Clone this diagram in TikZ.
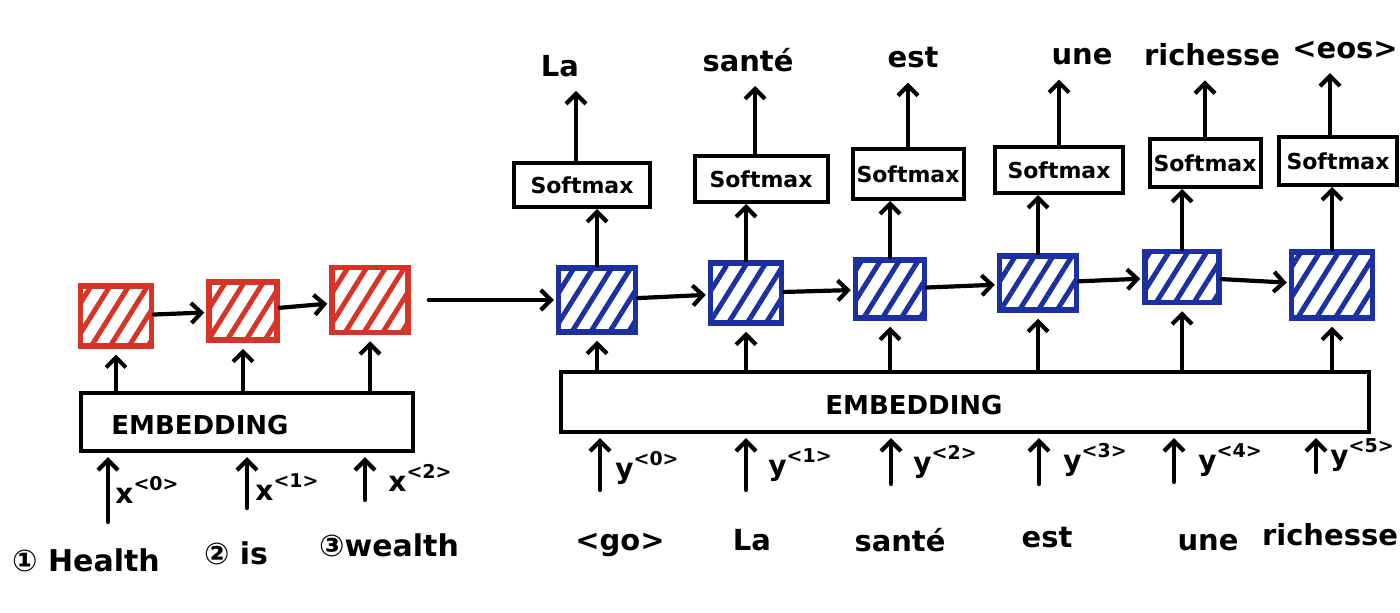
\documentclass[tikz,border=0pt]{standalone}
\usepackage{fontspec}
\setmainfont{DejaVu Sans}
\usetikzlibrary{arrows.meta,patterns.meta}
\definecolor{redc}{RGB}{214,52,38}
\definecolor{bluec}{RGB}{28,48,160}
\newcommand{\fsz}[1]{\fontsize{#1}{#1}\selectfont}
\newcommand{\suplab}[2]{#1\raisebox{13pt}{\fsz{19}\textless#2\textgreater}}
\begin{document}
\begin{tikzpicture}[x=1pt,y=-1pt,
  conn/.style={line width=4.2pt, line cap=round, -{Straight Barb[length=10pt,width=20pt]}},
  cellbase/.style={line width=5.5pt, inner sep=0pt},
  rcell/.style={cellbase, draw=redc, pattern={Lines[angle=58,distance=16pt,line width=5pt]}, pattern color=redc},
  bcell/.style={cellbase, draw=bluec, pattern={Lines[angle=58,distance=16pt,line width=5pt]}, pattern color=bluec},
  smax/.style={draw, line width=4pt, inner sep=0pt, font=\fsz{22}\bfseries},
  embbox/.style={draw, line width=4.2pt, inner sep=0pt},
  embtxt/.style={font=\fsz{26}\bfseries, inner sep=0pt},
  word/.style={font=\fsz{29}\bfseries, inner sep=0pt},
  lab/.style={font=\fsz{28}\bfseries, inner sep=0pt}]
\fill[white] (0,0) rectangle (1400,613);
\useasboundingbox (0,0) rectangle (1400,613);
\clip (0,0) rectangle (1400,613);

% encoder cells
\node[rcell, minimum width=71pt, minimum height=60pt] (r1) at (116,316) {};
\node[rcell, minimum width=68pt, minimum height=58pt] (r2) at (243,311) {};
\node[rcell, minimum width=76pt, minimum height=65pt] (r3) at (370,300) {};
% decoder cells
\node[bcell, minimum width=77pt, minimum height=64pt] (b1) at (597,300) {};
\node[bcell, minimum width=71pt, minimum height=60pt] (b2) at (746,293) {};
\node[bcell, minimum width=69pt, minimum height=58pt] (b3) at (890,289) {};
\node[bcell, minimum width=77pt, minimum height=54pt] (b4) at (1038,283) {};
\node[bcell, minimum width=74pt, minimum height=51pt] (b5) at (1182,277) {};
\node[bcell, minimum width=81pt, minimum height=66pt] (b6) at (1332,285) {};

% softmax boxes
\node[smax, minimum width=136pt, minimum height=44pt] (s1) at (582,185) {Softmax};
\node[smax, minimum width=133pt, minimum height=46pt] (s2) at (761,179) {Softmax};
\node[smax, minimum width=111pt, minimum height=50pt] (s3) at (908,174) {Softmax};
\node[smax, minimum width=128pt, minimum height=46pt] (s4) at (1059,170) {Softmax};
\node[smax, minimum width=111pt, minimum height=48pt] (s5) at (1205,163) {Softmax};
\node[smax, minimum width=118pt, minimum height=48pt] (s6) at (1338,161) {Softmax};

% output words
\node[word] (t1) at (560,66) {La};
\node[word] (t2) at (748,60) {santé};
\node[word] (t3) at (913,58) {est};
\node[word] (t4) at (1082,57) {une};
\node[word] (t5) at (1212,55) {richesse};
\node[word] (t6) at (1345,50) {\textless eos\textgreater};

% embeddings
\node[embbox, minimum width=332pt, minimum height=58pt] (e1) at (247,422) {};
\node[embtxt] (e1t) at (200,425) {EMBEDDING};
\node[embbox, minimum width=808pt, minimum height=60pt] (e2) at (965,402) {};
\node[embtxt] (e2t) at (914,405) {EMBEDDING};

% recurrent arrows
\draw[conn, shorten >=2pt] (r1) -- (r2);
\draw[conn, shorten >=2pt] (r2) -- (r3);
\draw[conn, shorten <=18pt, shorten >=2pt] (r3) -- (b1);
\draw[conn, shorten >=2pt] (b1) -- (b2);
\draw[conn, shorten >=2pt] (b2) -- (b3);
\draw[conn, shorten >=2pt] (b3) -- (b4);
\draw[conn, shorten >=2pt] (b4) -- (b5);
\draw[conn, shorten >=2pt] (b5) -- (b6);

% embedding to cells
\foreach \c in {r1,r2,r3}{\draw[conn, shorten >=6pt] (e1.north -| \c) -- (\c.south);}
\foreach \c in {b1,b2,b3,b4,b5,b6}{\draw[conn, shorten >=6pt] (e2.north -| \c) -- (\c.south);}

% cells to softmax
\draw[conn] (b1.north) -- (b1.north |- s1.south);
\draw[conn] (b2.north) -- (b2.north |- s2.south);
\draw[conn] (b3.north) -- (b3.north |- s3.south);
\draw[conn] (b4.north) -- (b4.north |- s4.south);
\draw[conn] (b5.north) -- (b5.north |- s5.south);
\draw[conn] (b6.north) -- (b6.north |- s6.south);

% softmax to words
\draw[conn, shorten >=14pt] ([xshift=-6pt]s1.north) -- ([xshift=-6pt]s1.north |- t1.south);
\draw[conn, shorten >=14pt] ([xshift=-6pt]s2.north) -- ([xshift=-6pt]s2.north |- t2.south);
\draw[conn, shorten >=14pt] (s3.north) -- (s3.north |- t3.south);
\draw[conn, shorten >=14pt] (s4.north) -- (s4.north |- t4.south);
\draw[conn, shorten >=14pt] (s5.north) -- (s5.north |- t5.south);
\draw[conn, shorten >=14pt] ([xshift=-8pt]s6.north) -- ([xshift=-8pt]s6.north |- t6.south);

% encoder inputs
\coordinate (xi0) at (108,522);
\coordinate (xi1) at (247,508);
\coordinate (xi2) at (365,500);
\foreach \p in {xi0,xi1,xi2}{\draw[conn, shorten >=4pt] (\p) -- (\p |- e1.south);}
\node[lab] (xl0) at (147,490) {\suplab{x}{0}};
\node[lab] (xl1) at (287,487) {\suplab{x}{1}};
\node[lab] (xl2) at (420,478) {\suplab{x}{2}};

% decoder inputs
\coordinate (yi0) at (600,490);
\coordinate (yi1) at (746,490);
\coordinate (yi2) at (891,484);
\coordinate (yi3) at (1039,484);
\coordinate (yi4) at (1174,482);
\coordinate (yi5) at (1316,472);
\foreach \p in {yi0,yi1,yi2,yi3,yi4,yi5}{\draw[conn, shorten >=4pt] (\p) -- (\p |- e2.south);}
\node[lab] (yl0) at (647,468) {\suplab{y}{0}};
\node[lab] (yl1) at (800,465) {\suplab{y}{1}};
\node[lab] (yl2) at (945,462) {\suplab{y}{2}};
\node[lab] (yl3) at (1095,460) {\suplab{y}{3}};
\node[lab] (yl4) at (1230,460) {\suplab{y}{4}};
\node[lab] (yl5) at (1362,455) {\suplab{y}{5}};

% source words
\node[word, font=\fsz{30}\bfseries] (w1) at (86,560) {① Health};
\node[word, font=\fsz{30}\bfseries] (w2) at (236,553) {② is};
\node[word, font=\fsz{30}\bfseries] (w3) at (389,545) {③wealth};

% decoder input words
\node[word] (d0) at (620,545) {\textless go\textgreater};
\node[word] (d1) at (752,540) {La};
\node[word] (d2) at (900,540) {santé};
\node[word] (d3) at (1047,538) {est};
\node[word] (d4) at (1208,543) {une};
\node[word] (d5) at (1330,535) {richesse};
\end{tikzpicture}
\end{document}
